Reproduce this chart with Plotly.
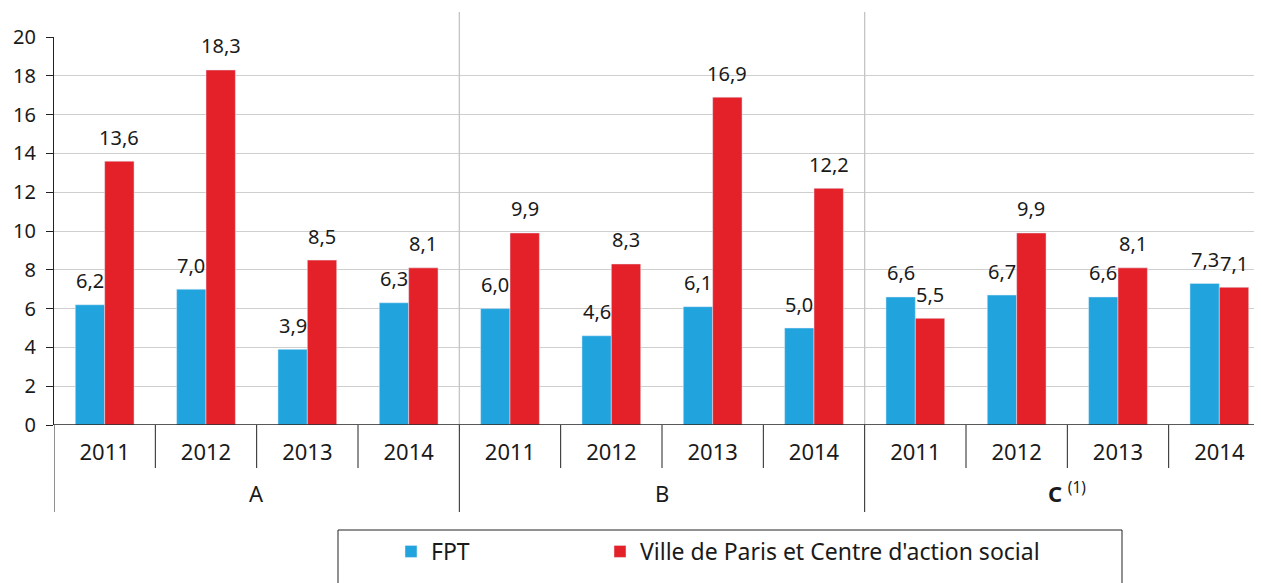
import plotly.graph_objects as go

# data
groups = ["A", "B", "C"]
group_labels = ["A", "B", "<b>C</b> <sup>(1)</sup>"]
years = ["2011", "2012", "2013", "2014"]
fpt = [6.2, 7.0, 3.9, 6.3,
       6.0, 4.6, 6.1, 5.0,
       6.6, 6.7, 6.6, 7.3]
ville = [13.6, 18.3, 8.5, 8.1,
         9.9, 8.3, 16.9, 12.2,
         5.5, 9.9, 8.1, 7.1]

blue = "#21A4DD"
red = "#E42028"
ink = "#1a1a1a"
font = "Noto Sans"

n = len(groups) * len(years)
x = list(range(n))
ticktext = years * len(groups)

# page body has an 8px margin, so the figure is drawn 8px right and down
PW = 1216   # plot width in px
PH = 388    # plot height in px

fig = go.Figure()
fig.add_trace(go.Bar(x=x, y=fpt, name="FPT", marker_color=blue,
                     offsetgroup="fpt", legend="legend"))
fig.add_trace(go.Bar(x=x, y=ville, name="Ville de Paris et Centre d'action social",
                     marker_color=red, offsetgroup="ville", legend="legend2"))

# value labels above the bars (comma decimals)
bw = 0.29
for i in range(n):
    for val, dx in [(fpt[i], -bw / 2), (ville[i], bw / 2)]:
        fig.add_annotation(x=i + dx, y=val, text=f"{val:.1f}".replace(".", ","),
                           showarrow=False, yshift=24,
                           font=dict(size=20, color=ink, family=font))

shapes = []
# year dividers below the axis
for i in range(1, n):
    if i % len(years) == 0:
        continue
    shapes.append(dict(type="line", xref="x", yref="paper", x0=i - 0.5, x1=i - 0.5,
                       y0=0, y1=-43 / PH, line=dict(color="#222", width=1)))
# group dividers: long ticks below the axis + gray lines in the plot
for g in range(len(groups) + 1):
    xb = g * len(years) - 0.5
    shapes.append(dict(type="line", xref="x", yref="paper", x0=xb, x1=xb,
                       y0=0, y1=-87 / PH, line=dict(color="#222", width=1)))
    if 0 < g < len(groups):
        shapes.append(dict(type="line", xref="x", yref="paper", x0=xb, x1=xb,
                           y0=0, y1=1 + 25 / PH, line=dict(color="#c4c4c4", width=1.3)))
# legend frame
shapes.append(dict(type="rect", xref="paper", yref="paper",
                   x0=(338 - 54) / PW, x1=(1122 - 54) / PW,
                   y0=-105 / PH, y1=-175 / PH, line=dict(color="#222", width=1)))

for g, lab in enumerate(group_labels):
    fig.add_annotation(x=g * len(years) + 1.5, y=-70 / PH, xref="x", yref="paper",
                       text=lab, showarrow=False, yshift=-15,
                       font=dict(size=22, color=ink, family=font))

leg = dict(orientation="h", xref="container", yref="container",
           xanchor="left", yanchor="top", font=dict(size=23, family=font, color=ink),
           bgcolor="rgba(0,0,0,0)")

fig.update_layout(
    width=1262, height=583,
    margin=dict(l=46, r=0, t=29, b=166),
    plot_bgcolor="white", paper_bgcolor="white",
    font=dict(family=font, size=20, color=ink),
    barmode="group", bargap=0.42, bargroupgap=0,
    shapes=shapes,
    showlegend=True,
    legend=dict(leg, x=383 / 1262, y=1 - 522 / 583),
    legend2=dict(leg, x=592 / 1262, y=1 - 522 / 583),
    xaxis=dict(range=[-0.5, n - 0.5], tickvals=x, ticktext=ticktext,
               showgrid=False, zeroline=False, showline=False, ticks="",
               ticklabelstandoff=12, automargin=False,
               tickfont=dict(size=22, family=font, color=ink)),
    yaxis=dict(range=[0, 20], dtick=2, showgrid=True, gridcolor="#cfcfcf",
               gridwidth=1.3, zeroline=False, showline=True, linecolor="#222",
               ticks="outside", ticklen=7, tickcolor="#222", automargin=False,
               ticklabelstandoff=6,
               tickfont=dict(size=20, family=font, color=ink)),
)
# x axis base line
fig.add_hline(y=0, line=dict(color="#222", width=1.3))

fig.write_html("out.html")
